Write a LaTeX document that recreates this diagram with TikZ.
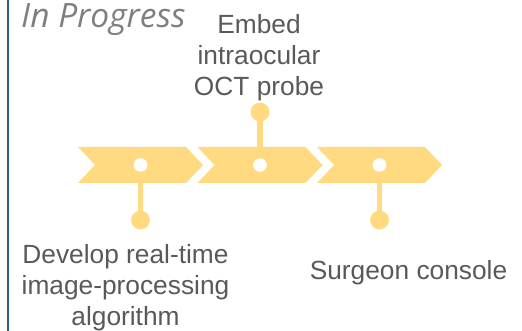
\documentclass[tikz,border=0pt]{standalone}
\usepackage{fontspec}
\setmainfont{Liberation Sans}
\newfontfamily\titlefont{Open Sans}
\definecolor{chev}{HTML}{FFDA80}
\definecolor{txt}{HTML}{595959}
\definecolor{ttl}{HTML}{7F7F7F}
\definecolor{bar}{HTML}{2E5E8C}
\tikzset{
  chevshape/.style={fill=chev, draw=none},
  stem/.style={draw=chev, line width=5.5pt},
  bulb/.style={circle, fill=chev, draw=none, minimum size=18.6pt, inner sep=0pt},
  hole/.style={circle, fill=white, draw=none, minimum size=13.4pt, inner sep=0pt},
  label/.style={text=txt, font=\fontsize{26.3}{31}\selectfont, align=center, inner sep=0pt},
}
\begin{document}
\begin{tikzpicture}[x=1pt, y=-1pt]
\useasboundingbox (0,0) rectangle (522,331);
% left bar
\draw[bar, line width=2pt] (8,0) -- (8,331);
% title
\node[anchor=base west, inner sep=0pt, text=ttl, font=\titlefont\itshape\fontsize{33.5}{38}\selectfont] (title) at (21,28) {In Progress};
% chevrons
\foreach \i in {0,1,2} {
  \begin{scope}[xshift=\i*119.5pt]
    \fill[chevshape] (78,147) -- (186,147) -- (203,165) -- (186,183) -- (78,183) -- (95,165) -- cycle;
  \end{scope}
}
% dots and bulbs
\node[hole] (d1) at (140.5,165) {};
\node[hole] (d2) at (260,165) {};
\node[hole] (d3) at (379.5,165) {};
\node[bulb] (b1) at (140.5,220) {};
\node[bulb] (b2) at (260,112) {};
\node[bulb] (b3) at (379.5,220) {};
\draw[stem] (d1.center) -- (b1.center);
\draw[stem] (d2.center) -- (b2.center);
\draw[stem] (d3.center) -- (b3.center);
\node[bulb] at (b1) {};
\node[bulb] at (b2) {};
\node[bulb] at (b3) {};
\node[hole] at (d1) {};
\node[hole] at (d2) {};
\node[hole] at (d3) {};
% labels
\node[label, anchor=north] (t2) at (259,13.8) {Embed\\intraocular\\OCT probe};
\node[label, anchor=north] (t1) at (125.5,243.8) {Develop real-time\\image-processing\\algorithm};
\node[label, anchor=base] (t3) at (408.5,279) {Surgeon console};
\end{tikzpicture}
\end{document}
